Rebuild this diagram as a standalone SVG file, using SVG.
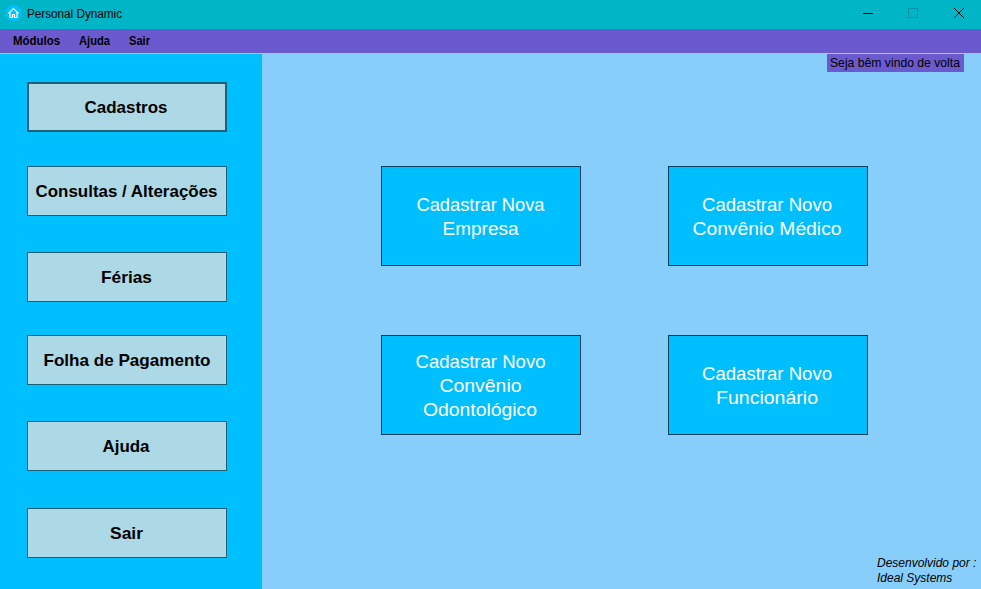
<svg xmlns="http://www.w3.org/2000/svg" width="981" height="589" viewBox="0 0 981 589">
<style>
text{font-family:"Liberation Sans",Arial,sans-serif}
.side rect{fill:#add8e6;stroke:#1f5f78;stroke-width:1}
.side text{font-size:17px;font-weight:bold;text-anchor:middle;fill:#000}
.main rect{fill:#00bfff;stroke:#0a3d5c;stroke-width:1}
.main text{font-size:18.67px;text-anchor:middle;fill:#fff}
.menu{font-size:12px;font-weight:bold;fill:#000}
</style>
<rect width="981" height="589" fill="#87cefa"/>
<rect x="0" y="0" width="262" height="589" fill="#00bfff"/>
<g id="titlebar">
<rect width="981" height="29" fill="#00b5c5"/>
<circle cx="13.500" cy="13" r="8" fill="#00bfff"/>
<path d="M8.500 13.500 L13.500 8.500 L18.500 13.500 M10 12.500 V17.500 H12.500 V14.500 H14.500 V17.500 H17 V12.500" fill="none" stroke="#fff" stroke-width="1.200"/>
<text x="27" y="18" font-size="12" fill="#000" textLength="95" lengthAdjust="spacingAndGlyphs">Personal Dynamic</text>
<path d="M863 13.500 H873" stroke="#000" stroke-width="1" fill="none"/>
<rect x="908.500" y="8.500" width="9" height="9" fill="none" stroke="#0a93a3"/>
<path d="M954 8 L964 18 M964 8 L954 18" stroke="#000" stroke-width="1" fill="none"/>
</g>
<g id="menubar">
<rect y="29" width="981" height="24" fill="#6a5acd"/>
<rect y="53" width="981" height="1" fill="#a9c4f5"/>
<text class="menu" x="13" y="45" textLength="47" lengthAdjust="spacingAndGlyphs">Módulos</text>
<text class="menu" x="79" y="45" textLength="31" lengthAdjust="spacingAndGlyphs">Ajuda</text>
<text class="menu" x="129" y="45" textLength="21" lengthAdjust="spacingAndGlyphs">Sair</text>
</g>
<g id="welcome">
<rect x="827" y="54" width="137" height="18" fill="#6a5acd"/>
<text x="830" y="67" font-size="12" fill="#000" textLength="130" lengthAdjust="spacingAndGlyphs">Seja bêm vindo de volta</text>
</g>
<g id="btn-cadastros" class="side"><rect x="28" y="83" width="198" height="48" style="stroke-width:2"/><text x="126" y="113" textLength="83" lengthAdjust="spacingAndGlyphs">Cadastros</text></g>
<g id="btn-consultas" class="side"><rect x="27.500" y="166.500" width="199" height="49"/><text x="126.500" y="197" textLength="182" lengthAdjust="spacingAndGlyphs">Consultas / Alterações</text></g>
<g id="btn-ferias" class="side"><rect x="27.500" y="252.500" width="199" height="49"/><text x="126.500" y="283" textLength="51" lengthAdjust="spacingAndGlyphs">Férias</text></g>
<g id="btn-folha" class="side"><rect x="27.500" y="335.500" width="199" height="49"/><text x="127" y="366" textLength="167" lengthAdjust="spacingAndGlyphs">Folha de Pagamento</text></g>
<g id="btn-ajuda" class="side"><rect x="27.500" y="421.500" width="199" height="49"/><text x="126" y="452" textLength="47" lengthAdjust="spacingAndGlyphs">Ajuda</text></g>
<g id="btn-sair" class="side"><rect x="27.500" y="508.500" width="199" height="49"/><text x="126.500" y="539" textLength="33" lengthAdjust="spacingAndGlyphs">Sair</text></g>
<g id="card-empresa" class="main"><rect x="381.500" y="166.500" width="199" height="99"/><text x="480.500" y="211" textLength="128" lengthAdjust="spacingAndGlyphs">Cadastrar Nova</text><text x="480.500" y="235" textLength="76" lengthAdjust="spacingAndGlyphs">Empresa</text></g>
<g id="card-medico" class="main"><rect x="668.500" y="166.500" width="199" height="99"/><text x="767" y="211" textLength="130" lengthAdjust="spacingAndGlyphs">Cadastrar Novo</text><text x="767" y="235" textLength="149" lengthAdjust="spacingAndGlyphs">Convênio Médico</text></g>
<g id="card-odonto" class="main"><rect x="381.500" y="335.500" width="199" height="99"/><text x="480.500" y="368" textLength="130" lengthAdjust="spacingAndGlyphs">Cadastrar Novo</text><text x="480.500" y="392" textLength="82" lengthAdjust="spacingAndGlyphs">Convênio</text><text x="480" y="416" textLength="114" lengthAdjust="spacingAndGlyphs">Odontológico</text></g>
<g id="card-funcionario" class="main"><rect x="668.500" y="335.500" width="199" height="99"/><text x="767" y="380" textLength="130" lengthAdjust="spacingAndGlyphs">Cadastrar Novo</text><text x="767" y="404" textLength="102" lengthAdjust="spacingAndGlyphs">Funcionário</text></g>
<g id="footer" font-size="12" font-style="italic" fill="#000">
<text x="877" y="567">Desenvolvido por :</text>
<text x="877" y="582">Ideal Systems</text>
</g>
<g id="connectors"></g>
</svg>
